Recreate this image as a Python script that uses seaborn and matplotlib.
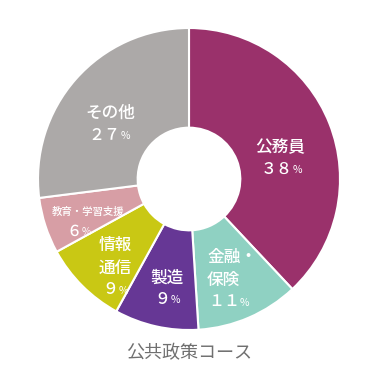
import matplotlib
matplotlib.use("Agg")
import matplotlib.pyplot as plt
import seaborn as sns

# データ（時計回り、上から）
categories = ["公務員", "金融・保険", "製造", "情報通信", "教育・学習支援", "その他"]
shares = [38, 11, 9, 9, 6, 27]
share_labels = ["３８", "１１", "９", "９", "６", "２７"]
label_lines = [["公務員"], ["金融・", "保険"], ["製造"], ["情報", "通信"], ["教育・学習支援"], ["その他"]]
colors = ["#9a316b", "#8fd1c2", "#663795", "#c9c814", "#d79ea5", "#aca9a8"]
title = "公共政策コース"

sns.set_theme(style="white")
plt.rcParams["font.family"] = ["Noto Sans CJK JP", "DejaVu Sans"]

W, H = 380, 380
CX, CY, R = 189, 179, 151

fig = plt.figure(figsize=(W / 100, H / 100), dpi=100)
ax = fig.add_axes([(CX - R) / W, (H - CY - R) / H, 2 * R / W, 2 * R / H])

ax.pie(
    shares,
    colors=colors,
    startangle=90,
    counterclock=False,
    radius=1,
    wedgeprops={"width": 0.66, "edgecolor": "white", "linewidth": 1.5},
)
ax.set_xlim(-1, 1)
ax.set_ylim(-1, 1)
ax.set_aspect("equal")
ax.axis("off")
renderer = fig.canvas.get_renderer()


def px(x, y):
    return (x - CX) / R, (CY - y) / R


def value_label(x, y, num, ha, fs):
    # 数字と小さい「%」をまとめて配置
    xd, yd = px(x, y)
    t1 = ax.text(xd, yd, num, color="white", fontsize=fs, ha="left", va="center",
                 fontweight="medium")
    t2 = ax.text(xd, yd, "%", color="white", fontsize=fs * 0.65, ha="left", va="center")
    w1 = t1.get_window_extent(renderer).width
    w2 = t2.get_window_extent(renderer).width
    total = w1 + w2
    start = x if ha == "left" else x - total / 2
    t1.set_position(px(start, y))
    t2.set_position(px(start + w1, y + 1))


# ラベル位置（ピクセル）: 行の位置, 値の位置, 揃え, サイズ
label_pos = [
    ([(280, 147)], (281, 169), "center", 12, 11.5),
    ([(207, 257), (207, 280)], (208, 302), "left", 12, 11.5),
    ([(167, 278)], (167, 299), "center", 12, 11.5),
    ([(115, 245), (115, 268)], (115, 290), "center", 12, 11.5),
    ([(88, 212)], (79, 231), "center", 7.5, 11),
    ([(110, 113)], (109, 135), "center", 12, 11.5),
]

for lines, num, (lpos, vpos, ha, fs, nfs) in zip(label_lines, share_labels, label_pos):
    for text, (x, y) in zip(lines, lpos):
        ax.text(*px(x, y), text, color="white", fontsize=fs, ha=ha, va="center",
                fontweight="medium")
    value_label(vpos[0], vpos[1], num, ha, nfs)

fig.text(189 / W, 1 - 353 / H, title, color="#707070", fontsize=13, ha="center", va="center")

fig.savefig("out.png", dpi=100, facecolor="white")
